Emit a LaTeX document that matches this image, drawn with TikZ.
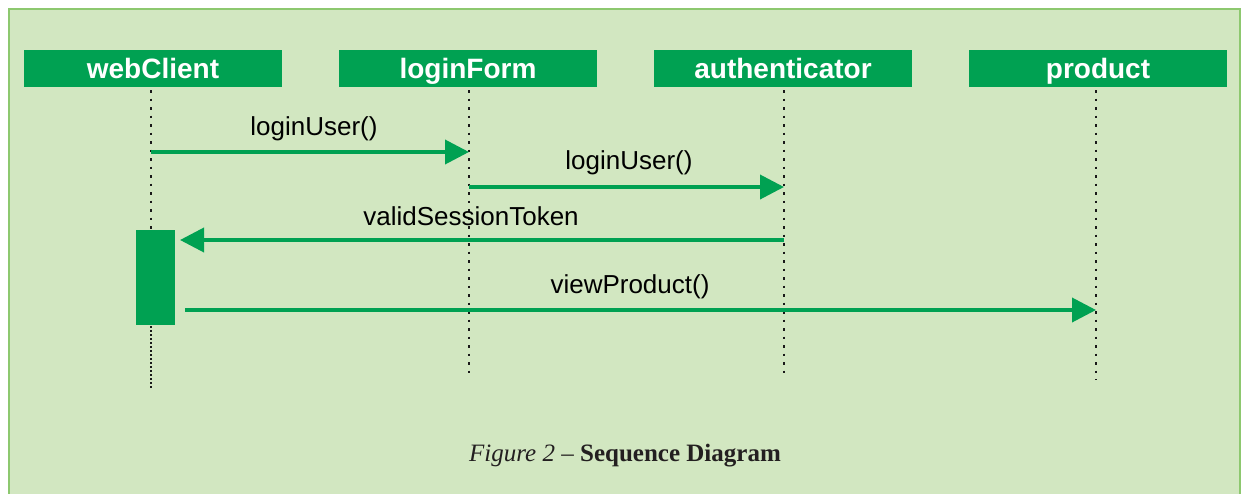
\documentclass[tikz,border=0pt]{standalone}
\usepackage{fontspec}
\setmainfont{Liberation Serif}
\setsansfont{Liberation Sans}
\usetikzlibrary{arrows.meta}
\definecolor{panelbg}{HTML}{D2E7C1}
\definecolor{panelrule}{HTML}{8DC86F}
\definecolor{umlgreen}{HTML}{00A152}
\definecolor{captionink}{HTML}{231F20}
\tikzset{
  header/.style={fill=umlgreen, minimum width=258pt, minimum height=37pt, inner sep=0pt,
    text=white, font=\sffamily\bfseries\fontsize{28}{30}\selectfont,
    text height=20pt, text depth=0pt},
  lifeline/.style={draw=black!90, line width=2.6pt, dash pattern=on 2.6pt off 5.9pt},
  denseline/.style={draw=black!90, line width=2.4pt, dash pattern=on 2pt off 2pt},
  message/.style={draw=umlgreen, line width=3.8pt, -{Triangle[length=24pt,width=24pt]}},
  msglabel/.style={font=\sffamily\fontsize{26}{28}\selectfont, text=black, inner sep=0pt},
  activation/.style={fill=umlgreen, inner sep=0pt, minimum width=39pt, minimum height=95pt}
}
\begin{document}
\begin{tikzpicture}[x=1pt,y=-1pt]
\useasboundingbox (0,0) rectangle (1244,493);
\fill[white] (0,0) rectangle (1244,493);
\filldraw[fill=panelbg, draw=panelrule, line width=2.5pt] (9,9) rectangle (1240,500);

% participants
\node[header] (wc) at (153,68.5) {webClient};
\node[header] (lf) at (468,68.5) {loginForm};
\node[header] (au) at (783,68.5) {authenticator};
\node[header] (pr) at (1098,68.5) {product};

% lifeline anchors
\coordinate (wcA) at (151,90);
\coordinate (wcB) at (151,230);
\coordinate (wcC) at (151,326);
\coordinate (wcD) at (151,388);
\coordinate (lfA) at (469,90);
\coordinate (lfB) at (469,378);
\coordinate (auA) at (784,90);
\coordinate (auB) at (784,378);
\coordinate (prA) at (1096,90);
\coordinate (prB) at (1096,380);

\draw[lifeline] (wcA) -- (wcB);
\draw[denseline] (wcC) -- (wcD);
\draw[lifeline] (lfA) -- (lfB);
\draw[lifeline] (auA) -- (auB);
\draw[lifeline] (prA) -- (prB);

% activation bar
\node[activation] (act) at (155.5,277.5) {};

% messages
\coordinate (m1s) at (151,152);
\coordinate (m1e) at (469,152);
\coordinate (m2s) at (469,187);
\coordinate (m2e) at (784,187);
\coordinate (m3s) at (784,240);
\coordinate (m3e) at (180,240);
\coordinate (m4s) at (185,310);
\coordinate (m4e) at (1096,310);

\draw[message] (m1s) -- (m1e);
\draw[message] (m2s) -- (m2e);
\draw[message] (m3s) -- (m3e);
\draw[message] (m4s) -- (m4e);

\node[msglabel] (l1) at (314,129) {loginUser()};
\node[msglabel] (l2) at (629,163) {loginUser()};
\node[msglabel] (l3) at (471,216) {validSessionToken};
\node[msglabel] (l4) at (630,287) {viewProduct()};

% caption
\node[text=captionink, font=\fontsize{25}{28}\selectfont, inner sep=0pt] (cap) at (625,456)
  {\textit{Figure 2} -- \textbf{Sequence Diagram}};
\end{tikzpicture}
\end{document}
